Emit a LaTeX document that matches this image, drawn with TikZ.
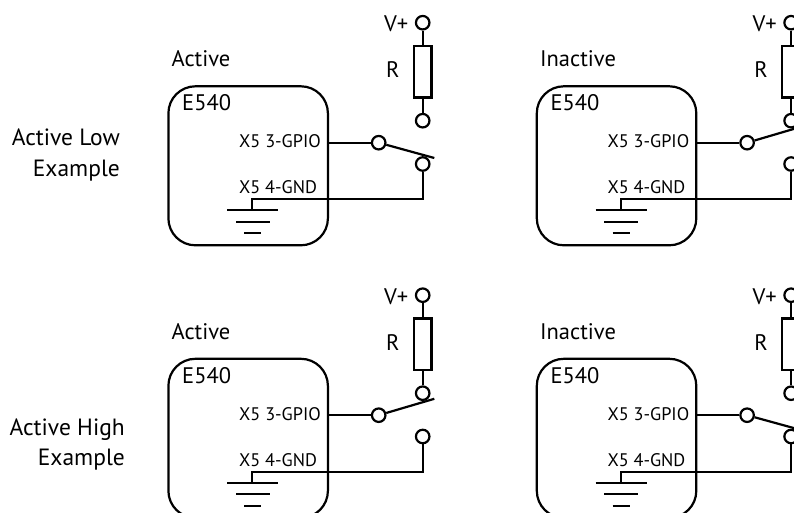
\documentclass[tikz,border=0pt]{standalone}
\usepackage{fontspec}
\setmainfont{PT Sans}
\tikzset{
  wire/.style={line width=2.2pt,black},
  term/.style={circle,draw,line width=2.2pt,fill=white,inner sep=0pt,minimum size=13.5pt},
  chip/.style={rectangle,draw,line width=2.2pt,rounded corners=27pt,minimum width=159.5pt,minimum height=159pt,anchor=north west,inner sep=0pt},
  res/.style={rectangle,draw,line width=2.2pt,minimum width=17.5pt,minimum height=51.5pt,inner sep=0pt},
  big/.style={font=\fontsize{22.5}{24}\selectfont,anchor=base west,inner sep=0pt},
  small/.style={font=\fontsize{18.2}{20}\selectfont,inner sep=0pt},
  side/.style={font=\fontsize{23.5}{25}\selectfont,inner sep=0pt,anchor=base east}
}
\newcommand{\panel}[5]{%
  \begin{scope}[shift={(#2,#3)}]
    \node[chip] (#1box) at (167.3,85.2) {};
    \node[big] (#1title) at (171.5,66.5) {#4};
    \node[big] (#1name) at (182,111) {E540};
    \node[small,anchor=base east] (#1gpio) at (321,148) {X5 3-GPIO};
    \node[small,anchor=base west] (#1gnd) at (239,193.5) {X5 4-GND};
    \node[big,anchor=base east] (#1vp) at (408.5,32) {V+};
    \node[big,anchor=base] (#1rl) at (392.7,77.5) {R};
    \node[term] (#1top) at (422.7,22.7) {};
    \node[res] (#1r) at (422.7,71.7) {};
    \node[term] (#1low) at (422.7,120.7) {};
    \node[term] (#1pin) at (378.7,142.7) {};
    \node[term] (#1con) at (422.7,164) {};
    \coordinate (#1arm) at (434.3,#5);
    \coordinate (#1gc) at (252.3,199.3);
    \coordinate (#1g1) at (252.3,210.3);
    \coordinate (#1g1a) at (227.3,210.3);
    \coordinate (#1g1b) at (278.3,210.3);
    \coordinate (#1g2a) at (236,221.7);
    \coordinate (#1g2b) at (270,221.7);
    \coordinate (#1g3a) at (244.3,233.3);
    \coordinate (#1g3b) at (261.3,233.3);
    \draw[wire] (#1top) -- (#1r);
    \draw[wire] (#1r) -- (#1low);
    \draw[wire] (#1box.east |- #1pin) -- (#1pin);
    \draw[wire] (#1pin) -- (#1arm);
    \draw[wire] (#1con.south) |- (#1gc) -- (#1g1);
    \draw[wire] (#1g1a) -- (#1g1b);
    \draw[wire] (#1g2a) -- (#1g2b);
    \draw[wire] (#1g3a) -- (#1g3b);
  \end{scope}%
}
\begin{document}
\begin{tikzpicture}[x=1pt,y=-1pt]
\useasboundingbox (0,0) rectangle (794,513);
\clip (0,0) rectangle (794,513);
\fill[white] (0,0) rectangle (794,513);
\panel{a}{0}{0}{Active}{158}
\panel{b}{368.4}{0}{Inactive}{126.3}
\panel{c}{0}{272.5}{Active}{126.3}
\panel{d}{368.4}{272.5}{Inactive}{158}
\node[side] (l1) at (120,145.5) {Active Low};
\node[side] (l2) at (120,176) {Example};
\node[side] (l3) at (125,435) {Active High};
\node[side] (l4) at (125,465.5) {Example};
\end{tikzpicture}
\end{document}
